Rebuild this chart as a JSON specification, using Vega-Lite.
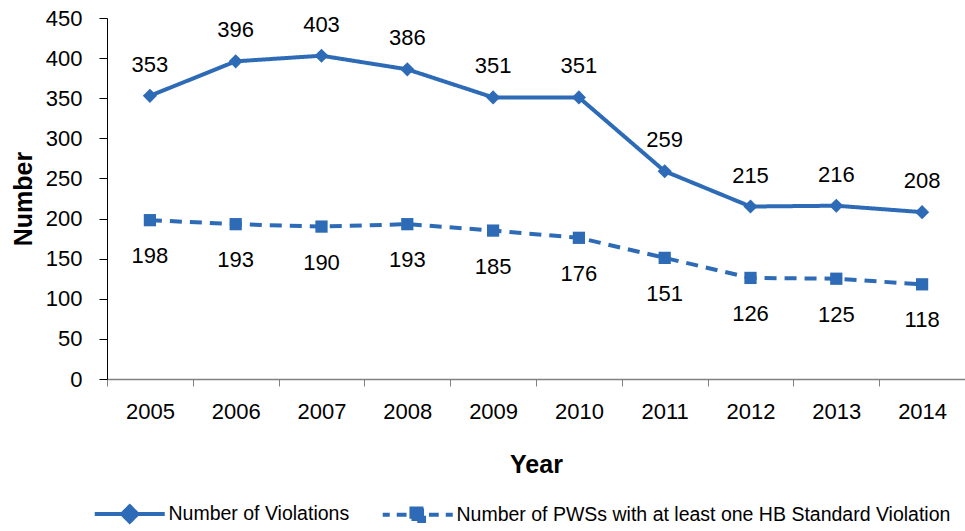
{
  "$schema": "https://vega.github.io/schema/vega-lite/v6.json",
  "width": 858,
  "height": 361,
  "autosize": {"type": "none"},
  "padding": {"left": 107, "top": 18, "right": 0, "bottom": 152},
  "background": "white",
  "config": {
    "font": "Liberation Sans",
    "view": {"stroke": null}
  },
  "data": {
    "values": [
      {"year": "2005", "series": "Number of  Violations", "value": 353},
      {"year": "2006", "series": "Number of  Violations", "value": 396},
      {"year": "2007", "series": "Number of  Violations", "value": 403},
      {"year": "2008", "series": "Number of  Violations", "value": 386},
      {"year": "2009", "series": "Number of  Violations", "value": 351},
      {"year": "2010", "series": "Number of  Violations", "value": 351},
      {"year": "2011", "series": "Number of  Violations", "value": 259},
      {"year": "2012", "series": "Number of  Violations", "value": 215},
      {"year": "2013", "series": "Number of  Violations", "value": 216},
      {"year": "2014", "series": "Number of  Violations", "value": 208},
      {"year": "2005", "series": "Number of PWSs with at least one HB Standard Violation", "value": 198},
      {"year": "2006", "series": "Number of PWSs with at least one HB Standard Violation", "value": 193},
      {"year": "2007", "series": "Number of PWSs with at least one HB Standard Violation", "value": 190},
      {"year": "2008", "series": "Number of PWSs with at least one HB Standard Violation", "value": 193},
      {"year": "2009", "series": "Number of PWSs with at least one HB Standard Violation", "value": 185},
      {"year": "2010", "series": "Number of PWSs with at least one HB Standard Violation", "value": 176},
      {"year": "2011", "series": "Number of PWSs with at least one HB Standard Violation", "value": 151},
      {"year": "2012", "series": "Number of PWSs with at least one HB Standard Violation", "value": 126},
      {"year": "2013", "series": "Number of PWSs with at least one HB Standard Violation", "value": 125},
      {"year": "2014", "series": "Number of PWSs with at least one HB Standard Violation", "value": 118}
    ]
  },
  "encoding": {
    "x": {
      "field": "year", "type": "ordinal", "title": "Year",
      "scale": {"paddingInner": 0, "paddingOuter": 0},
      "axis": {
        "labelAngle": 0, "tickBand": "extent", "tickSize": 7, "tickColor": "#808080",
        "domainColor": "#808080", "domainWidth": 1.5,
        "labelFontSize": 22, "labelColor": "#000", "labelPadding": 15,
        "titleFontSize": 25, "titleFontWeight": "bold", "titleColor": "#000", "titlePadding": 30
      }
    },
    "y": {
      "field": "value", "type": "quantitative", "title": "Number",
      "scale": {"domain": [0, 450], "nice": false},
      "axis": {
        "values": [0, 50, 100, 150, 200, 250, 300, 350, 400, 450],
        "grid": false, "tickSize": 8, "tickColor": "#000", "domainColor": "#000",
        "labelFontSize": 22, "labelColor": "#000", "labelPadding": 17,
        "titleFontSize": 25, "titleFontWeight": "bold", "titleColor": "#000", "titlePadding": 9
      }
    }
  },
  "layer": [
    {
      "mark": {"type": "line", "strokeWidth": 4},
      "encoding": {
        "color": {"field": "series", "type": "nominal",
          "scale": {"domain": ["Number of  Violations", "Number of PWSs with at least one HB Standard Violation"], "range": ["#2E6BB6", "#2E6BB6"]},
          "legend": {
            "title": null, "orient": "none", "direction": "horizontal", "columns": 2,
            "legendX": 13, "legendY": 486, "labelLimit": 0,
            "labelFontSize": 19.5, "labelColor": "#000", "labelOffset": 29,
            "symbolSize": 196, "columnPadding": 19, "symbolStrokeWidth": 4,
            "encode": {
              "symbols": {
                "update": {
                  "shape": {"signal": "datum.value === 'Number of  Violations' ? 'M-5,0L5,0M0,-1.1L1.1,0L0,1.1L-1.1,0Z' : 'M-5,0L-4,0M-3,0L-1.6,0M1.6,0L3,0M4,0L5,0M-0.9,-0.9L0.9,-0.9L0.9,0.9L-0.9,0.9Z'"},
                  "fill": {"value": "#2E6BB6"},
                  "stroke": {"value": "#2E6BB6"},
                  "strokeWidth": {"value": 4},
                  "strokeDash": {"value": []},
                  "opacity": {"value": 1}
                }
              }
            }
          }
        },
        "strokeDash": {"field": "series", "type": "nominal", "legend": null,
          "scale": {"domain": ["Number of  Violations", "Number of PWSs with at least one HB Standard Violation"], "range": [[1, 0], [12, 8]]}}
      }
    },
    {
      "transform": [{"filter": "datum.series === 'Number of  Violations'"}],
      "mark": {"type": "point", "filled": true, "opacity": 1, "shape": "diamond", "size": 200, "color": "#2E6BB6"}
    },
    {
      "transform": [{"filter": "datum.series !== 'Number of  Violations'"}],
      "mark": {"type": "point", "filled": true, "opacity": 1, "shape": "square", "size": 150, "color": "#2E6BB6"}
    },
    {
      "transform": [{"filter": "datum.series === 'Number of  Violations'"}],
      "mark": {"type": "text", "dy": -31, "fontSize": 22, "color": "#000"},
      "encoding": {"text": {"field": "value", "type": "quantitative"}}
    },
    {
      "transform": [{"filter": "datum.series !== 'Number of  Violations'"}],
      "mark": {"type": "text", "dy": 36, "fontSize": 22, "color": "#000"},
      "encoding": {"text": {"field": "value", "type": "quantitative"}}
    }
  ]
}
